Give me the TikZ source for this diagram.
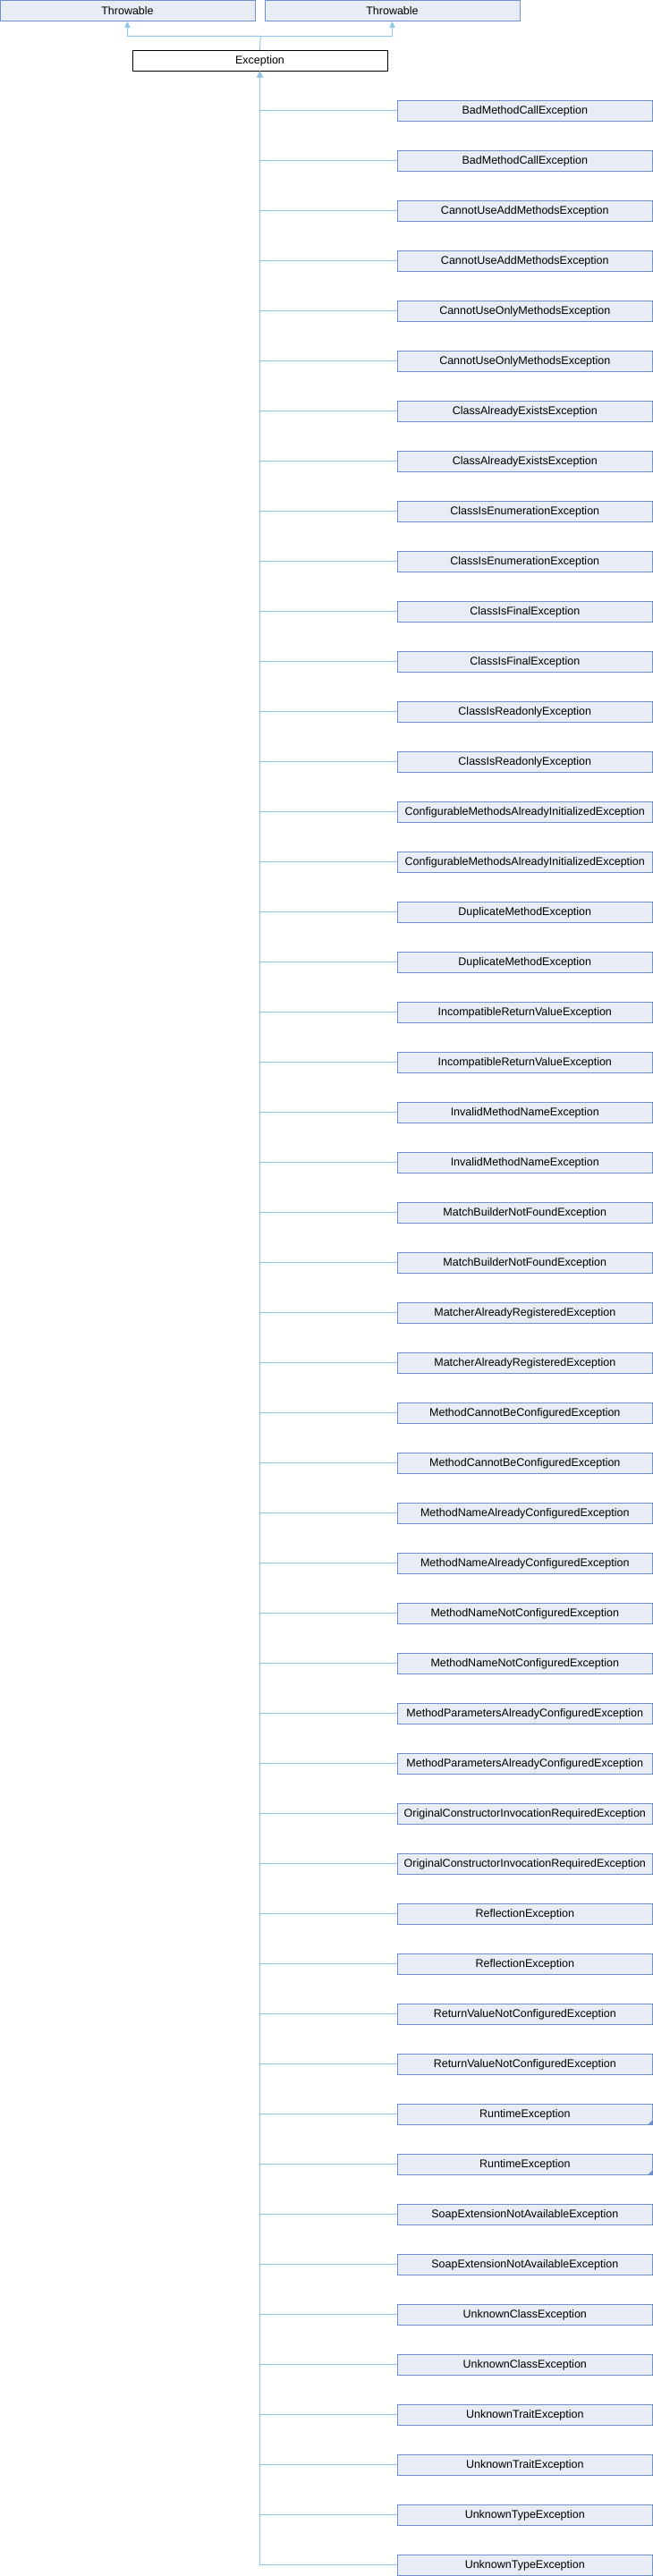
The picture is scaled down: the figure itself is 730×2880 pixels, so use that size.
\documentclass[tikz,border=0pt]{standalone}
\usepackage{fontspec}
\setmainfont{Liberation Sans}
\usetikzlibrary{arrows.meta}
\definecolor{nodefill}{HTML}{E8ECF4}
\definecolor{nodeborder}{HTML}{7191CC}
\definecolor{edgecol}{HTML}{93C6EA}
\begin{document}
\begin{tikzpicture}[x=1pt,y=-1pt,
  cls/.style={draw=nodeborder,fill=nodefill,line width=1pt,minimum width=285pt,minimum height=23pt,inner sep=0pt,font=\fontsize{12.5}{14}\selectfont},
  base/.style={draw=black,fill=white,line width=1pt,minimum width=285pt,minimum height=23pt,inner sep=0pt,font=\fontsize{12.5}{14}\selectfont},
  inh/.style={draw=edgecol,line width=1pt,-{Triangle[width=6pt,length=7pt]}},
  edgeline/.style={draw=edgecol,line width=1pt}]
\useasboundingbox (0,0) rectangle (730,2880);
\node[cls] (t1) at (142.5,11.8) {Throwable};
\node[cls] (t2) at (438.5,11.8) {Throwable};
\node[base] (exc) at (290.5,67.8) {Exception};
\coordinate (j) at (291.3,40.3);
\draw[inh] (exc.north) -- (j) -| (t1.south);
\draw[inh] (j) -| (t2.south);
\foreach \nm [count=\i from 0] in {BadMethodCallException,CannotUseAddMethodsException,CannotUseOnlyMethodsException,ClassAlreadyExistsException,ClassIsEnumerationException,ClassIsFinalException,ClassIsReadonlyException,ConfigurableMethodsAlreadyInitializedException,DuplicateMethodException,IncompatibleReturnValueException,InvalidMethodNameException,MatchBuilderNotFoundException,MatcherAlreadyRegisteredException,MethodCannotBeConfiguredException,MethodNameAlreadyConfiguredException,MethodNameNotConfiguredException,MethodParametersAlreadyConfiguredException,OriginalConstructorInvocationRequiredException,ReflectionException,ReturnValueNotConfiguredException,RuntimeException,SoapExtensionNotAvailableException,UnknownClassException,UnknownTraitException,UnknownTypeException}{
  \pgfmathsetmacro{\ya}{123.8+112*\i}
  \pgfmathsetmacro{\yb}{179.8+112*\i}
  \node[cls] (a\i) at (586.8,\ya) {\nm};
  \node[cls] (b\i) at (586.8,\yb) {\nm};
  \draw[inh] (a\i.west) -| (exc.south);
  \draw[inh] (b\i.west) -| (exc.south);
}
\fill[nodeborder] (a20.south east) -- ++(-6,0) -- ++(6,-6) -- cycle;
\fill[nodeborder] (b20.south east) -- ++(-6,0) -- ++(6,-6) -- cycle;
\end{tikzpicture}
\end{document}
